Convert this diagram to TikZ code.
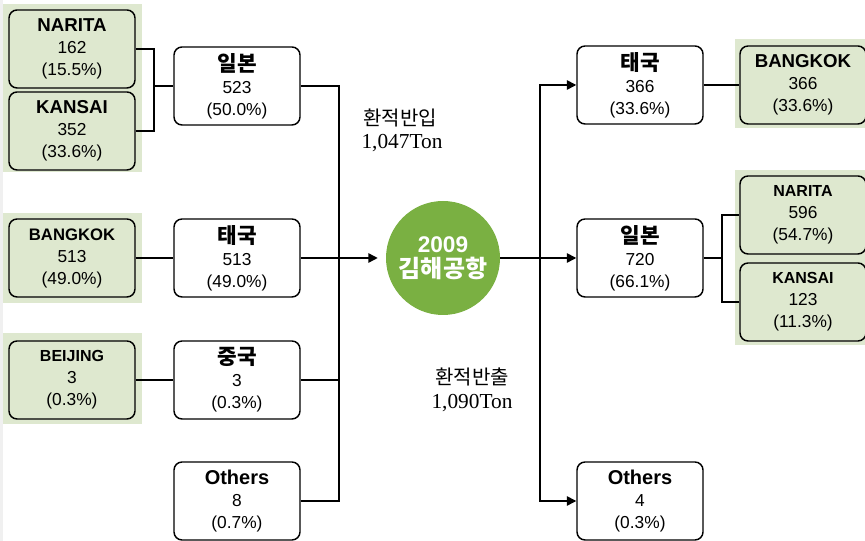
\documentclass[tikz,border=0pt]{standalone}
\usepackage{fontspec}
\setmainfont{Liberation Sans}
\newfontfamily\krfont{Noto Sans CJK KR}
\newfontfamily\serfont{Liberation Serif}
\usetikzlibrary{arrows.meta}
\definecolor{panelgreen}{RGB}{222,232,207}
\definecolor{hubgreen}{RGB}{122,176,66}
\tikzset{
  cbox/.style={draw, line width=1.1pt, rounded corners=6pt, fill=white,
    minimum width=94.5pt, minimum height=58.5pt, inner sep=0pt,
    align=center, font=\fontsize{13}{16.5}\selectfont},
  gbox/.style={cbox, fill=panelgreen},
  link/.style={line width=1.1pt},
  feed/.style={link, -{Triangle[length=7pt,width=7pt]}},
}
\newcommand{\ktitle}[1]{{\krfont\bfseries\fontsize{16}{16.5}\selectfont #1}}
\newcommand{\etitle}[2][14]{{\bfseries\fontsize{#1}{16.5}\selectfont #2}}

\begin{document}
\begin{tikzpicture}[x=0.75pt,y=0.75pt,yscale=-1,xscale=1]
\useasboundingbox (0,0) rectangle (865,541);
\fill[gray!12] (0,0) rectangle (3,541);

%Shape: green panels
\fill[panelgreen] (3,4) rectangle (142,172);
\fill[panelgreen] (3,213) rectangle (142,303);
\fill[panelgreen] (3,333) rectangle (142,424);
\fill[panelgreen] (735,39) rectangle (865,128);
\fill[panelgreen] (735,170) rectangle (865,345);

% Origin boxes
\node[gbox] (naritaL) at (72,49) {\etitle{NARITA}\\162\\(15.5\%)};
\node[gbox] (kansaiL) at (72,131) {\etitle{KANSAI}\\352\\(33.6\%)};
\node[gbox] (bangkokL) at (72,258) {\etitle[12.5]{BANGKOK}\\513\\(49.0\%)};
\node[gbox] (beijingL) at (72,380) {\etitle[12]{BEIJING}\\3\\(0.3\%)};

% Inbound country boxes
\node[cbox] (japanL) at (237,86) {\ktitle{일본}\\523\\(50.0\%)};
\node[cbox] (thaiL) at (237,258) {\ktitle{태국}\\513\\(49.0\%)};
\node[cbox] (chinaL) at (237,380) {\ktitle{중국}\\3\\(0.3\%)};
\node[cbox] (othersL) at (237,501) {\etitle[15]{Others}\\8\\(0.7\%)};

% Hub
\node[circle, fill=hubgreen, minimum size=85.5pt, inner sep=0pt, text=white,
  align=center] (hub) at (443,258)
  {{\bfseries\fontsize{17}{22}\selectfont 2009}\\[2pt]{\krfont\bfseries\fontsize{18}{22}\selectfont 김해공항}};

% Outbound country boxes
\node[cbox] (thaiR) at (640,85) {\ktitle{태국}\\366\\(33.6\%)};
\node[cbox] (japanR) at (640,258) {\ktitle{일본}\\720\\(66.1\%)};
\node[cbox] (othersR) at (640,501) {\etitle[15]{Others}\\4\\(0.3\%)};

% Destination boxes
\node[gbox] (bangkokR) at (803,85) {\etitle{BANGKOK}\\366\\(33.6\%)};
\node[gbox] (naritaR) at (803,215) {\etitle[12]{NARITA}\\596\\(54.7\%)};
\node[gbox] (kansaiR) at (803,302) {\etitle[12]{KANSAI}\\123\\(11.3\%)};

% Text Node
\node[font=\krfont\fontsize{15}{18}\selectfont] (inlabel) at (400,118) {환적반입};
\node[font=\serfont\fontsize{16}{18}\selectfont] (inton) at (402,143) {1,047Ton};
\node[font=\krfont\fontsize{15}{18}\selectfont] (outlabel) at (472,377) {환적반출};
\node[font=\serfont\fontsize{16}{18}\selectfont] (outton) at (472,403) {1,090Ton};

% Connectors, left side
\coordinate (jointL) at (154,86);
\coordinate (busL) at (339,258);
\draw[link] (naritaL.east) -| (jointL);
\draw[link] (kansaiL.east) -| (jointL);
\draw[link] (jointL) -- (japanL.west);
\draw[link] (bangkokL.east) -- (thaiL.west);
\draw[link] (beijingL.east) -- (chinaL.west);
\draw[link] (japanL.east) -| (busL);
\draw[link] (othersL.east) -| (busL);
\draw[link] (chinaL.east) -- (chinaL.east -| busL);
\draw[link] (thaiL.east) -- (busL);
\draw[feed, shorten >=6pt] (busL) -- (hub.west);

% Connectors, right side
\coordinate (busR) at (540,258);
\coordinate (jointR) at (722,258);
\draw[link] (hub.east) -- (busR);
\draw[feed] (busR) |- (thaiR.west);
\draw[feed] (busR) -- (japanR.west);
\draw[feed] (busR) |- (othersR.west);
\draw[link] (thaiR.east) -- (bangkokR.west);
\draw[link] (japanR.east) -- (jointR);
\draw[link] (jointR) |- (naritaR.west);
\draw[link] (jointR) |- (kansaiR.west);

\end{tikzpicture}
\end{document}
